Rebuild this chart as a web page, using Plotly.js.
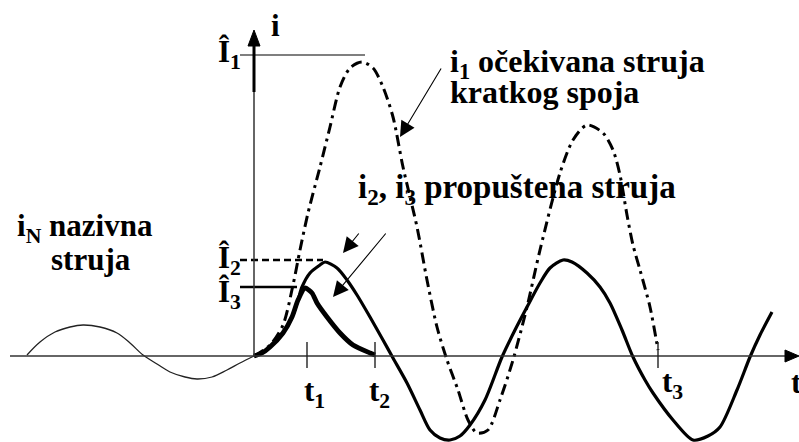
<!DOCTYPE html>
<html>
<head>
<meta charset="utf-8">
<script src="https://cdn.plot.ly/plotly-3.0.1.min.js"></script>
<style>
  html, body { margin:0; padding:0; background:#fff; }
  #chart { width:799px; height:442px; }
</style>
</head>
<body>
<div id="chart"></div>
<script>

/* ==========================================
   DATA  (t, i in drawing units, origin at axis cross)
========================================== */

// nominal current i_N (before the fault)
const tNominal = [-227,-214,-199,-184,-171,-154,-137,-124,-111,-97,-84,-69,-57,-42,-27,-14,0];
const iNominal = [1,14,24,29,31,29,23,13,1,-8,-16,-21,-23,-21,-14,-7,0];

// i1 prospective short-circuit current
const tExpected = [0,16,29,39,46,54,66,76,86,96,108,119,129,139,149,163,173,183,193,204,214,223,234,246,259,273,286,306,319,333,349,359,366,373,379,386,396,404];
const iExpected = [0,11,31,71,106,143,189,229,269,288,294,288,269,239,189,129,76,29,-4,-34,-64,-77,-74,-44,-4,49,106,183,216,231,223,206,181,141,111,86,49,6];

// i2 let-through current
const tLetThrough2 = [0,8,16,29,38,44,48,56,66,71,83,93,103,116,129,139,153,166,176,186,196,206,216,231,248,261,273,286,296,309,318,333,346,356,368,379,391,399,419,439,454,466,483,496,506,518];
const iLetThrough2 = [0,3,9,23,39,56,69,83,91,94,88,76,61,39,16,-2,-27,-54,-74,-82,-84,-80,-69,-44,-1,26,49,73,88,96,94,83,69,53,26,-1,-24,-37,-64,-84,-80,-71,-34,-1,21,44];

// i3 let-through current (limiter, cut at t2)
const tLetThrough3 = [0,8,16,29,38,44,51,58,63,73,86,99,116,121];
const iLetThrough3 = [0,3,9,23,39,56,68,63,53,39,23,11,3,1];

// peak levels
const peakNames  = ["Î<sub>1</sub>", "Î<sub>2</sub>", "Î<sub>3</sub>"];
const peakLevels = [301, 96, 69];
const peakEnds   = [111, 69, 43];

// time marks
const markNames = ["t<sub>1</sub>", "t<sub>2</sub>", "t<sub>3</sub>"];
const markTimes = [53, 121, 404];


/* ==========================================
   TRACES
========================================== */

const FONT = "Liberation Serif, Times New Roman, serif";

let traces = [

    {
        x:tNominal, y:iNominal, mode:"lines", name:"i_N",
        line:{color:"#222", width:1.3, shape:"spline", smoothing:1}
    },

    {
        x:tExpected, y:iExpected, mode:"lines", name:"i1",
        line:{color:"#000", width:3, shape:"spline", smoothing:0.8, dash:"11px,5px,3px,5px"}
    },

    {
        x:tLetThrough2, y:iLetThrough2, mode:"lines", name:"i2",
        line:{color:"#000", width:3.2, shape:"spline", smoothing:0.8}
    },

    {
        x:tLetThrough3, y:iLetThrough3, mode:"lines", name:"i3",
        line:{color:"#000", width:4.8, shape:"spline", smoothing:0.6}
    }

];

// peak level lines
const peakDash  = ["solid", "7px,4px", "solid"];
const peakWidth = [1.2, 2.6, 2.6];

peakLevels.forEach((lvl,k)=>{

    traces.push({
        x:[-14, peakEnds[k]], y:[lvl, lvl], mode:"lines",
        line:{color:"#000", width:peakWidth[k], dash:peakDash[k]}
    });

});


/* ==========================================
   SHAPES  (axes, arrows, time marks)
========================================== */

let shapes = [

    // t axis
    {type:"line", x0:-244, x1:532, y0:0, y1:0, line:{color:"#333", width:1.5}},
    {type:"path", path:"M 531 6 L 545 0 L 531 -6 Z", fillcolor:"#000", line:{color:"#000", width:1}},

    // i axis
    {type:"line", x0:0, x1:0, y0:0, y1:312, line:{color:"#333", width:1.5}},
    {type:"line", x0:0, x1:0, y0:264, y1:312, line:{color:"#000", width:3}},
    {type:"path", path:"M -6 310 L 0 326 L 6 310 Z", fillcolor:"#000", line:{color:"#000", width:1}}

];

markTimes.forEach(t=>{

    shapes.push({
        type:"line", x0:t, x1:t, y0:-12, y1:14,
        line:{color:"#222", width:1.4}
    });

});


/* ==========================================
   ANNOTATIONS
========================================== */

function label(text, x, y, size){

    return {
        text:text, x:x, y:y, xref:"x", yref:"y",
        xanchor:"left", yanchor:"middle", showarrow:false,
        font:{family:FONT, size:size || 31, color:"#000", weight:"bold"}
    };

}

function pointer(x, y, ax, ay){

    return {
        text:"", x:x, y:y, ax:ax, ay:ay, xref:"x", yref:"y", axref:"x", ayref:"y",
        showarrow:true, arrowhead:2, arrowsize:2.8, arrowwidth:1.1, arrowcolor:"#000"
    };

}

let annotations = [

    label("i<sub>1</sub> očekivana struja", 194, 293, 32),
    label("kratkog spoja", 194, 264, 32),
    label("i<sub>2</sub>, i<sub>3</sub> propuštena struja", 102, 167, 33),
    label("i<sub>N</sub> nazivna", -239, 128),
    label("struja", -205, 97),
    label("i", 15, 331),
    label("t", 535, -26),

    pointer(146, 219, 188, 289),
    pointer(89, 103, 106, 124),
    pointer(79, 59, 133, 124)

];

const peakLabelY = [302, 96, 62];

peakNames.forEach((name,k)=>{

    annotations.push(label(name, -38, peakLabelY[k]));

});

const markLabelX = [48, 113, 406];
const markLabelY = [-37, -37, -28];

markNames.forEach((name,k)=>{

    annotations.push(label(name, markLabelX[k], markLabelY[k]));

});


/* ==========================================
   LAYOUT
========================================== */

const layout = {

    width:799,
    height:442,
    margin:{l:0, r:0, t:0, b:0},
    paper_bgcolor:"#fff",
    plot_bgcolor:"#fff",
    showlegend:false,

    xaxis:{range:[-254, 545], visible:false, fixedrange:true},
    yaxis:{range:[-86, 356], visible:false, fixedrange:true},

    shapes:shapes,
    annotations:annotations

};

Plotly.newPlot("chart", traces, layout, {staticPlot:true, displayModeBar:false});

</script>
</body>
</html>
